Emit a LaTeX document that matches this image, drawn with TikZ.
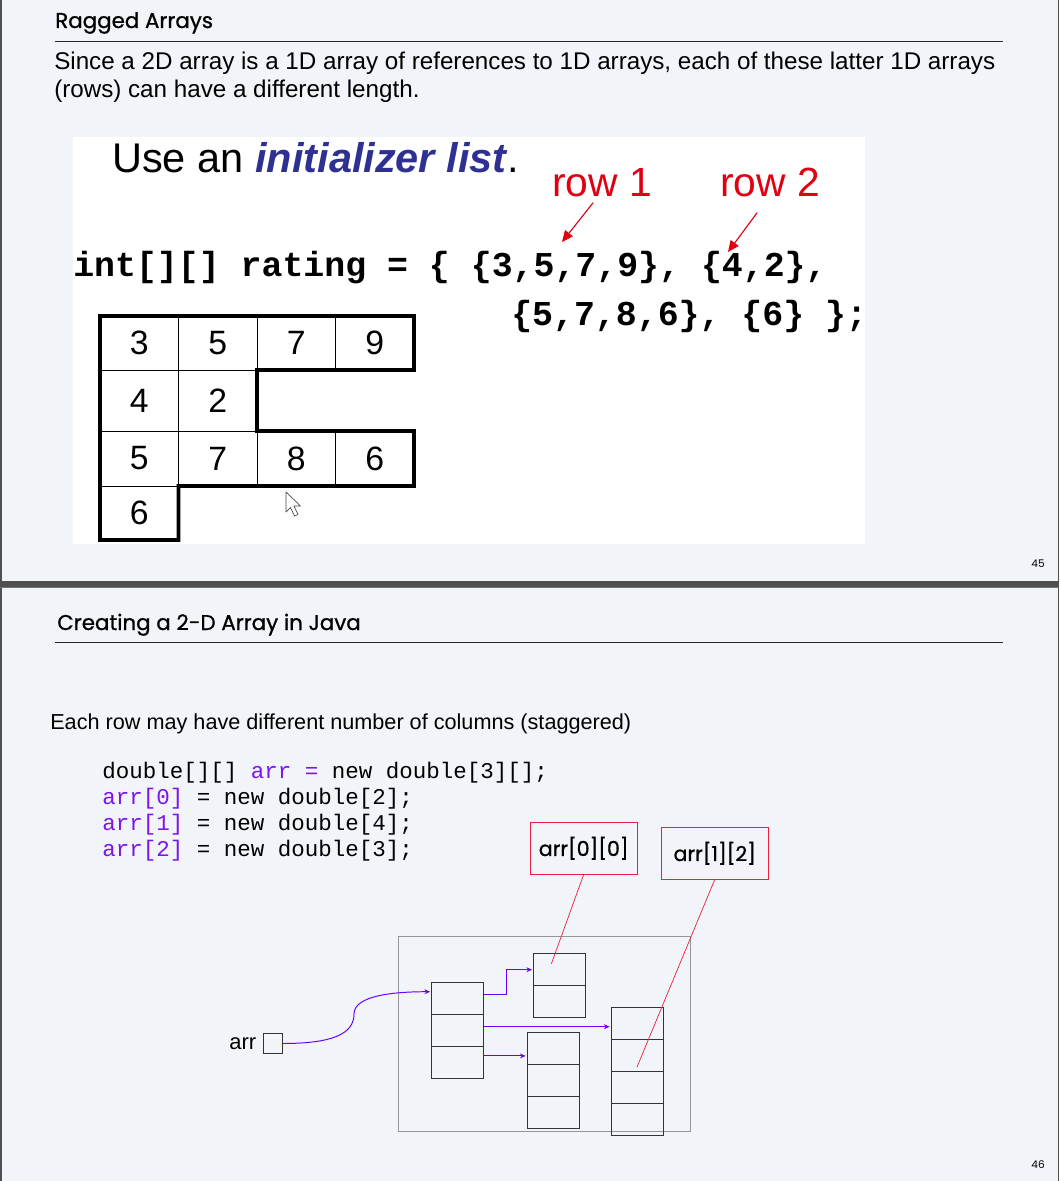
\documentclass[tikz,border=0pt]{standalone}
\usepackage{fontspec}
\setmainfont{Liberation Sans}
\setmonofont{Liberation Mono}
\newfontfamily\titlefont[FakeBold=0.9]{Poppins}
\newfontfamily\numfont{Poppins}
\usepackage{tikz}
\usetikzlibrary{positioning,arrows.meta}
\definecolor{slidebg}{RGB}{241,244,248}
\definecolor{edgegray}{RGB}{80,80,80}
\definecolor{initblue}{RGB}{46,49,146}
\definecolor{rowred}{RGB}{225,0,18}
\definecolor{boxred}{RGB}{240,30,60}
\definecolor{codepurple}{RGB}{125,20,235}
\definecolor{ptrpurple}{RGB}{105,0,255}
\definecolor{heapgray}{RGB}{150,150,150}
\tikzset{
  slidetitle/.style={anchor=base west, inner sep=0pt, font=\titlefont\fontsize{15.2}{18}\selectfont},
  titlerule/.style={draw=black!85, line width=1pt},
  bodytext/.style={anchor=base west, inner sep=0pt, font=\fontsize{17.2}{21}\selectfont},
  pagenum/.style={anchor=base east, inner sep=0pt, font=\numfont\fontsize{7.5}{9}\selectfont},
  rowlabel/.style={anchor=base west, text=rowred, font=\fontsize{29}{34}\selectfont},
  rowarrow/.style={draw=rowred, line width=0.8pt, -{Triangle[length=8pt,width=7pt]}},
  bigcode/.style={anchor=base west, inner sep=0pt, font=\ttfamily\bfseries\fontsize{24.8}{30}\selectfont},
  gridcell/.style={draw, line width=0.6pt, minimum width=1.9625cm, inner sep=0pt, outer sep=0pt,
                   font=\fontsize{24}{28}\selectfont},
  outline/.style={draw, line width=2.8pt, line join=miter},
  cursor/.style={draw=black!70, fill=white, line width=0.5pt, line join=round},
  code/.style={anchor=base west, inner sep=0pt, font=\ttfamily\fontsize{16}{19}\selectfont},
  arrcell/.style={draw=black!80, line width=0.6pt, minimum width=1.3cm, minimum height=0.8cm,
                  inner sep=0pt, outer sep=0pt},
  heap/.style={draw=heapgray, line width=0.7pt},
  ptr/.style={draw=ptrpurple, line width=0.7pt, -{Stealth[length=4pt,width=3.5pt]}, shorten >=1pt},
  redbox/.style={draw=boxred, line width=0.6pt, minimum width=2.67cm, minimum height=1.29cm,
                 inner sep=0pt, font=\titlefont\fontsize{14.6}{17}\selectfont},
  callout/.style={draw=boxred, line width=0.5pt},
}
\begin{document}
\begin{tikzpicture}[x=0.025cm, y=-0.025cm]
  \useasboundingbox (0,0) rectangle (1059,1181);
  % the two slides
  \fill[slidebg] (0,0) rectangle (1059,581);
  \fill[slidebg] (0,588) rectangle (1059,1181);
  \fill[edgegray] (0,581) rectangle (1059,588);
  \fill[black!55] (0,586.5) rectangle (1059,588);
  \draw[edgegray, line width=1pt] (0.8,0) -- (0.8,581) (0.8,588) -- (0.8,1181);
  \draw[edgegray, line width=1pt] (1058.2,0) -- (1058.2,581) (1058.2,588) -- (1058.2,1181);

  % slide 45
  \node[slidetitle] (title1) at (55,28) {Ragged Arrays};
  \draw[titlerule] (55,41.5) -- (1003,41.5);
  \node[bodytext] (body1) at (54,70) {Since a 2D array is a 1D array of references to 1D arrays, each of these latter 1D arrays};
  \node[bodytext] (body2) at (54,98) {(rows) can have a different length.};
  \fill[white] (73,137) rectangle (865,544);
  \node[anchor=base west, inner sep=0pt, font=\fontsize{29.5}{34}\selectfont] (usean) at (112,173)
    {Use an \textcolor{initblue}{\textbf{\textit{initializer list}}}.};
  \node[rowlabel, inner sep=0pt] (row1) at (552,197) {row 1};
  \node[rowlabel, inner sep=0pt] (row2) at (720,197) {row 2};
  \node[bigcode] (decl1) at (73,277) {int[][] rating = \{ \{3,5,7,9\}, \{4,2\},};
  \node[bigcode] (decl2) at (511,325) {\{5,7,8,6\}, \{6\} \};};
  \coordinate (r1tip) at (562,242);
  \coordinate (r2tip) at (728,252);
  \draw[rowarrow] ([shift={(-9,5)}]row1.south) -- (r1tip);
  \draw[rowarrow] ([shift={(-13,15)}]row2.south) -- (r2tip);

  \foreach \r/\ytop/\rh/\vals in {1/316/54/{3,5,7,9}, 2/370/61/{4,2}, 3/431/55/{5,7,8,6}, 4/486/54/{6}}
    \foreach \v [count=\c] in \vals
      \node[gridcell, minimum height=\rh*0.025cm] (g\r\c) at ({100+78.5*(\c-0.5)}, {\ytop+\rh/2}) {\v};
  \draw[outline] (g11.north west) -- (g14.north east) -- (g14.south east) -- (g13.south west)
    -- (g33.north west) -- (g34.north east) -- (g34.south east) -- (g32.south west)
    -- (g41.south east) -- (g41.south west) -- cycle;
  \draw[cursor] (286,492) -- ++(0,20) -- ++(4.5,-4.5) -- ++(4,8.5) -- ++(3.5,-1.5)
    -- ++(-4,-8.5) -- ++(6.5,0) -- cycle;
  \node[pagenum] (page45) at (1045,567) {45};

  % slide 46
  \node[slidetitle] (title2) at (57,630) {Creating a 2-D Array in Java};
  \draw[titlerule] (55,642.3) -- (1003,642.3);
  \node[anchor=base west, inner sep=0pt, font=\fontsize{15.4}{18}\selectfont] (note) at (50,729)
    {Each row may have different number of columns (staggered)};
  \node[code] (line1) at (102,778) {double[][] \textcolor{codepurple}{arr =} new double[3][];};
  \node[code] (line2) at (102,804.5) {\textcolor{codepurple}{arr[0]} = new double[2];};
  \node[code] (line3) at (102,830) {\textcolor{codepurple}{arr[1]} = new double[4];};
  \node[code] (line4) at (102,856) {\textcolor{codepurple}{arr[2]} = new double[3];};

  \draw[heap] (398,936) rectangle (690.5,1131);
  \node[arrcell] (m1) at (457.5,998.7) {};
  \node[arrcell, below=0pt of m1] (m2) {};
  \node[arrcell, below=0pt of m2] (m3) {};
  \node[arrcell] (a01) at (559.4,969.7) {};
  \node[arrcell, below=0pt of a01] (a02) {};
  \node[arrcell] (a21) at (553,1048.7) {};
  \node[arrcell, below=0pt of a21] (a22) {};
  \node[arrcell, below=0pt of a22] (a23) {};
  \node[arrcell] (a11) at (637,1023) {};
  \node[arrcell, below=0pt of a11] (a12) {};
  \node[arrcell, below=0pt of a12] (a13) {};
  \node[arrcell, below=0pt of a13] (a14) {};

  \node[arrcell, minimum width=0.48cm, minimum height=0.49cm] (arrbox) at (272.7,1043.5) {};
  \node[left=0.05cm of arrbox, font=\fontsize{15.6}{19}\selectfont] (arrname) {arr};
  \coordinate (bend) at (354,1014);
  \draw[ptr] (arrbox.east) .. controls +(50,0) and +(0,20) .. (bend)
    .. controls +(0,-18) and +(-40,0) .. ([yshift=-0.225cm]m1.north west);
  \draw[ptr] ([yshift=-0.3cm]m1.north east) -- ++(23,0) |- (a01.west);
  \draw[ptr] ([yshift=-0.3cm]m2.north east) -- ([yshift=-0.3cm]m2.north east -| a11.west);
  \draw[ptr] ([yshift=-0.23cm]m3.north east) -- ([yshift=-0.23cm]m3.north east -| a21.west);

  \node[redbox] (lab00) at (583.7,848.3) {arr[0][0]};
  \node[redbox] (lab12) at (714.75,853.3) {arr[1][2]};
  \draw[callout] (lab00.south) -- ([shift={(-8,-6)}]a01.center);
  \draw[callout] (lab12.south) -- ([shift={(0,-4)}]a13.north);
  \node[pagenum] (page46) at (1045,1168) {46};
\end{tikzpicture}
\end{document}
